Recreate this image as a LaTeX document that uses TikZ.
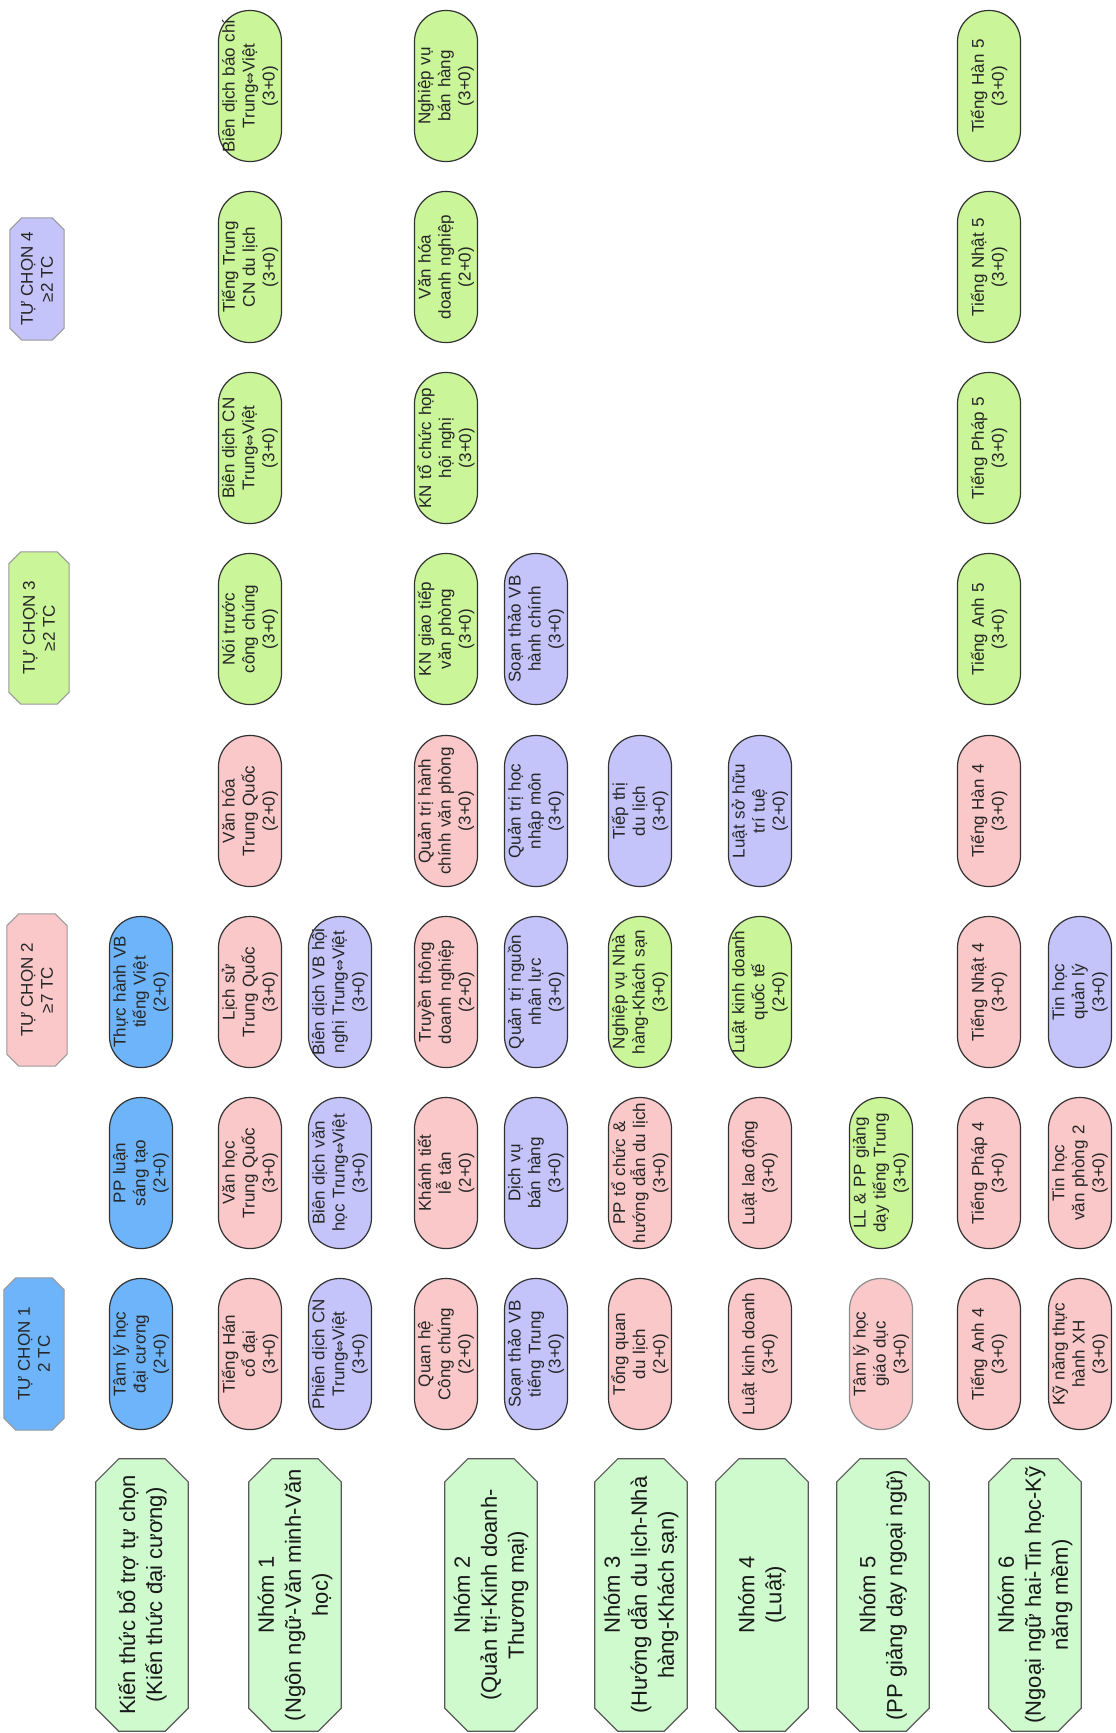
\documentclass[tikz,border=0pt]{standalone}
\usepackage{fontspec}
\setmainfont{Liberation Sans}
\newfontfamily\symfont{DejaVu Sans}
\usepackage{tikz}
\usetikzlibrary{backgrounds}
\usepackage{xcolor}
\definecolor{cblue}{RGB}{110,180,250}
\definecolor{cpink}{RGB}{250,200,200}
\definecolor{cviol}{RGB}{196,196,250}
\definecolor{clime}{RGB}{202,245,152}
\definecolor{cgrp}{RGB}{206,250,206}
\newcommand{\tv}{Trung{\symfont\fontsize{14}{14}\selectfont ⇔}Việt}
% octagon round a node turned by 90 degrees
\newcommand{\octpath}[2]{([yshift=-#2]#1.north east) -- ([xshift=#2]#1.north east)
  -- ([xshift=-#2]#1.south east) -- ([yshift=-#2]#1.south east)
  -- ([yshift=#2]#1.south west) -- ([xshift=-#2]#1.south west)
  -- ([xshift=#2]#1.north west) -- ([yshift=#2]#1.north west) -- cycle}
\tikzset{
  pill/.style ={draw=black!80, rectangle, rounded corners=31pt, rotate=90,
                minimum width=151pt, minimum height=63pt, text width=141pt,
                align=center, inner sep=1pt, line width=1.2pt,
                font=\fontsize{17}{20}\selectfont, text=black!85},
  pillB/.style={pill, fill=cblue},
  pillP/.style={pill, fill=cpink},
  pillV/.style={pill, fill=cviol},
  pillG/.style={pill, fill=clime},
  hdr/.style  ={rectangle, rotate=90, minimum width=152pt, minimum height=60pt,
                align=center, inner sep=1pt,
                font=\fontsize{17}{20}\selectfont, text=black!85},
  grp/.style  ={rectangle, rotate=90, minimum width=272pt, minimum height=92pt,
                align=center, inner sep=1pt,
                font=\fontsize{22}{27}\selectfont, text=black!90},
  hdrline/.style={draw=black!40, line width=1pt},
  grpline/.style={draw=black!65, fill=cgrp, line width=1.2pt},
}

\begin{document}
\begin{tikzpicture}[x=1pt, y=-1pt]
  \useasboundingbox (0,0) rectangle (1116,1733);

  \node[hdr] (tc1) at (34,1354) {TỰ CHỌN 1\\2 TC};
  \node[hdr] (tc2) at (37,990) {TỰ CHỌN 2\\≥7 TC};
  \node[hdr] (tc3) at (39,628) {TỰ CHỌN 3\\≥2 TC};
  \node[hdr, minimum width=122pt, minimum height=54pt]
    (tc4) at (37,279) {TỰ CHỌN 4\\≥2 TC};

  \node[pillB] (tlh)  at (141,1354) {Tâm lý học\\đại cương\\(2+0)};
  \node[pillB] (ppl)  at (141,1173) {PP luận\\sáng tạo\\(2+0)};
  \node[pillB] (thvb) at (141,992)  {Thực hành VB\\tiếng Việt\\(2+0)};

  \node[pillP] (thcd)   at (250,1354) {Tiếng Hán\\cổ đại\\(3+0)};
  \node[pillP] (vhtq)   at (250,1173) {Văn học\\Trung Quốc\\(3+0)};
  \node[pillP] (lstq)   at (250,992)  {Lịch sử\\Trung Quốc\\(3+0)};
  \node[pillP] (vhoatq) at (250,811)  {Văn hóa\\Trung Quốc\\(2+0)};
  \node[pillG] (ntcc)   at (250,629)  {Nói trước\\công chúng\\(3+0)};
  \node[pillG] (bdcn)   at (250,448)  {Biên dịch CN\\\tv\\(3+0)};
  \node[pillG] (ttdl)   at (250,267)  {Tiếng Trung\\CN du lịch\\(3+0)};
  \node[pillG] (bdbc)   at (250,86)   {Biên dịch báo chí\\\tv\\(3+0)};

  \node[pillV] (pdcn) at (340,1354) {Phiên dịch CN\\\tv\\(3+0)};
  \node[pillV] (bdvh) at (340,1173) {Biên dịch văn\\học \tv\\(3+0)};
  \node[pillV] (bdhn) at (340,992)  {Biên dịch VB hội\\nghị \tv\\(3+0)};

  \node[pillP] (qhcc) at (446,1354) {Quan hệ\\Công chúng\\(2+0)};
  \node[pillP] (ktlt) at (446,1173) {Khánh tiết\\lễ tân\\(2+0)};
  \node[pillP] (ttdn) at (446,992)  {Truyền thông\\doanh nghiệp\\(2+0)};
  \node[pillP] (qthc) at (446,811)  {Quản trị hành\\chính văn phòng\\(3+0)};
  \node[pillG] (kngt) at (446,629)  {KN giao tiếp\\văn phòng\\(3+0)};
  \node[pillG] (kntc) at (446,448)  {KN tổ chức họp\\hội nghị\\(3+0)};
  \node[pillG] (vhdn) at (446,267)  {Văn hóa\\doanh nghiệp\\(2+0)};
  \node[pillG] (nvbh) at (446,86)   {Nghiệp vụ\\bán hàng\\(3+0)};

  \node[pillV] (stvb)   at (536,1354) {Soạn thảo VB\\tiếng Trung\\(3+0)};
  \node[pillV] (dvbh)   at (536,1173) {Dịch vụ\\bán hàng\\(3+0)};
  \node[pillV] (qtnl)   at (536,992)  {Quản trị nguồn\\nhân lực\\(3+0)};
  \node[pillV] (qthnm)  at (536,811)  {Quản trị học\\nhập môn\\(3+0)};
  \node[pillV] (stvbhc) at (536,629)  {Soạn thảo VB\\hành chính\\(3+0)};

  \node[pillP] (tqdl) at (640,1354) {Tổng quan\\du lịch\\(2+0)};
  \node[pillP] (pptc) at (640,1173) {PP tổ chức \&\\hướng dẫn du lịch\\(3+0)};
  \node[pillG] (nvnh) at (640,992)  {Nghiệp vụ Nhà\\hàng-Khách sạn\\(3+0)};
  \node[pillV] (ttpdl) at (640,811) {Tiếp thị\\du lịch\\(3+0)};

  \node[pillP] (lkd)   at (760,1354) {Luật kinh doanh\\(3+0)};
  \node[pillP] (lld)   at (760,1173) {Luật lao động\\(3+0)};
  \node[pillG] (lkdqt) at (760,992)  {Luật kinh doanh\\quốc tế\\(2+0)};
  \node[pillV] (lshtt) at (760,811)  {Luật sở hữu\\trí tuệ\\(2+0)};

  \node[pillP, draw=black!45] (tlhgd) at (881,1354) {Tâm lý học\\giáo dục\\(3+0)};
  \node[pillG] (llpp)  at (881,1173) {LL \& PP giảng\\dạy tiếng Trung\\(3+0)};

  \node[pillP] (ta4) at (989,1354) {Tiếng Anh 4\\(3+0)};
  \node[pillP] (tp4) at (989,1173) {Tiếng Pháp 4\\(3+0)};
  \node[pillP] (tn4) at (989,992)  {Tiếng Nhật 4\\(3+0)};
  \node[pillP] (th4) at (989,811)  {Tiếng Hàn 4\\(3+0)};
  \node[pillG] (ta5) at (989,629)  {Tiếng Anh 5\\(3+0)};
  \node[pillG] (tp5) at (989,448)  {Tiếng Pháp 5\\(3+0)};
  \node[pillG] (tn5) at (989,267)  {Tiếng Nhật 5\\(3+0)};
  \node[pillG] (th5) at (989,86)   {Tiếng Hàn 5\\(3+0)};

  \node[pillP] (kntt) at (1080,1354) {Kỹ năng thực\\hành XH\\(3+0)};
  \node[pillP] (thvp) at (1080,1173) {Tin học\\văn phòng 2\\(3+0)};
  \node[pillV] (thql) at (1080,992)  {Tin học\\quản lý\\(3+0)};

  \node[grp] (g0) at (142,1595) {Kiến thức bổ trợ tự chọn\\(Kiến thức đại cương)};
  \node[grp] (g1) at (295,1595) {Nhóm 1\\(Ngôn ngữ-Văn minh-Văn\\học)};
  \node[grp] (g2) at (491,1595) {Nhóm 2\\(Quản trị-Kinh doanh-\\Thương mại)};
  \node[grp] (g3) at (641,1595) {Nhóm 3\\(Hướng dẫn du lịch-Nhà\\hàng-Khách sạn)};
  \node[grp] (g4) at (762,1595) {Nhóm 4\\(Luật)};
  \node[grp] (g5) at (883,1595) {Nhóm 5\\(PP giảng dạy ngoại ngữ)};
  \node[grp] (g6) at (1035,1595) {Nhóm 6\\(Ngoại ngữ hai-Tin học-Kỹ\\năng mềm)};

  \begin{scope}[on background layer]
    \foreach \n/\c in {tc1/cblue, tc2/cpink, tc3/clime, tc4/cviol}
      \draw[hdrline, fill=\c] \octpath{\n}{12pt};
    \foreach \n in {g0,g1,g2,g3,g4,g5,g6}
      \draw[grpline] \octpath{\n}{23pt};
  \end{scope}
\end{tikzpicture}
\end{document}
